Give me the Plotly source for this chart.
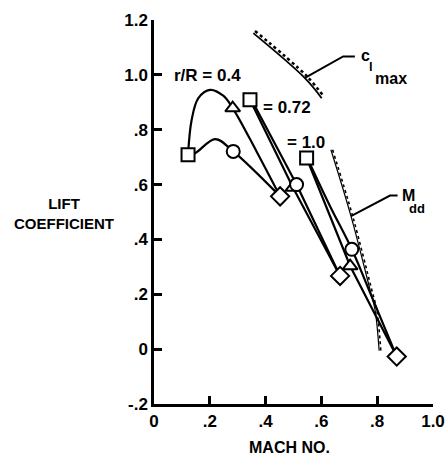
import plotly.graph_objects as go

# ---- data ----
# r/R = 0.4 : retreating (square) -> triangle -> advancing (diamond)
r04_upper_M = [0.122, 0.135, 0.159, 0.201, 0.248, 0.282, 0.368, 0.452]
r04_upper_CL = [0.709, 0.836, 0.915, 0.945, 0.924, 0.879, 0.720, 0.557]
r04_lower_M = [0.122, 0.147, 0.219, 0.284, 0.452]
r04_lower_CL = [0.709, 0.714, 0.766, 0.721, 0.557]
# r/R = 0.72
r072_a_M = [0.344, 0.498, 0.667]
r072_a_CL = [0.909, 0.589, 0.267]
r072_b_M = [0.352, 0.511, 0.667]
r072_b_CL = [0.905, 0.600, 0.267]
# r/R = 1.0
r10_a_M = [0.547, 0.703, 0.870]
r10_a_CL = [0.697, 0.303, -0.027]
r10_b_M = [0.550, 0.631, 0.709, 0.785, 0.870]
r10_b_CL = [0.695, 0.521, 0.364, 0.180, -0.027]

# symbols
sq_M = [0.122, 0.344, 0.547]
sq_CL = [0.709, 0.909, 0.697]
tri_M = [0.282, 0.498, 0.703]
tri_CL = [0.879, 0.589, 0.303]
cir_M = [0.284, 0.511, 0.709]
cir_CL = [0.721, 0.600, 0.364]
dia_M = [0.452, 0.667, 0.870]
dia_CL = [0.557, 0.267, -0.027]

# boundaries
clmax_M = [0.356, 0.541, 0.601]
clmax_CL = [1.152, 0.988, 0.915]
mdd_M = [0.634, 0.706, 0.774, 0.792, 0.807]
mdd_CL = [0.727, 0.485, 0.218, 0.145, -0.006]
# leaders
clmax_lead_M = [0.541, 0.678, 0.720]
clmax_lead_CL = [0.989, 1.067, 1.067]
mdd_lead_M = [0.706, 0.846, 0.873]
mdd_lead_CL = [0.485, 0.560, 0.560]

x_ticks = [0, 0.2, 0.4, 0.6, 0.8, 1.0]
x_ticktext = ["0", ".2", ".4", ".6", ".8", "1.0"]
y_ticks = [-0.2, 0, 0.2, 0.4, 0.6, 0.8, 1.0, 1.2]
y_ticktext = ["-.2", "0", ".2", ".4", ".6", ".8", "1.0", "1.2"]

FONT = "Liberation Sans, Arial, sans-serif"
LW = 2.2

fig = go.Figure()


def line(x, y, shape="linear", width=LW, dash="solid"):
    fig.add_trace(go.Scatter(x=x, y=y, mode="lines",
                             line=dict(color="black", width=width, shape=shape, dash=dash),
                             hoverinfo="skip", showlegend=False))


line(r04_upper_M, r04_upper_CL, "spline")
line(r04_lower_M, r04_lower_CL, "spline")
line(r072_a_M, r072_a_CL)
line(r072_b_M, r072_b_CL)
line(r10_a_M, r10_a_CL)
line(r10_b_M, r10_b_CL, "spline")
# c_l max boundary with hatching on the upper side
line(clmax_M, clmax_CL, "spline", width=1.8)
line([m + 0.006 for m in clmax_M], [c + 0.008 for c in clmax_CL], "spline", width=2.5, dash="dot")
# M_dd boundary with hatching on the right side
line(mdd_M, mdd_CL, "spline", width=1.2)
line([m + 0.006 for m in mdd_M], mdd_CL, "spline", width=1.6, dash="dot")
line(clmax_lead_M, clmax_lead_CL, width=2)
line(mdd_lead_M, mdd_lead_CL, width=2)


def marks(x, y, sym, size):
    fig.add_trace(go.Scatter(x=x, y=y, mode="markers",
                             marker=dict(symbol=sym, size=size, color="white",
                                         line=dict(color="black", width=2)),
                             hoverinfo="skip", showlegend=False))


marks(sq_M, sq_CL, "square", 13)
marks(tri_M, tri_CL, "triangle-up", 13)
marks(cir_M, cir_CL, "circle", 13)
marks(dia_M, dia_CL, "diamond", 14)

bold = dict(family=FONT, size=17, color="black", weight="bold")


def text(x, y, t, xanchor="left", size=17, xref="x", yref="y"):
    fig.add_annotation(x=x, y=y, text=t, showarrow=False, xanchor=xanchor,
                       yanchor="middle", xref=xref, yref=yref,
                       font=dict(family=FONT, size=size, color="black", weight="bold"))


text(0.064, 0.996, "r/R = 0.4")
text(0.385, 0.880, "= 0.72")
text(0.468, 0.752, "= 1.0")
text(0.735, 1.072, "c", size=16)
text(0.762, 1.030, "l", size=13)
text(0.785, 0.985, "max", size=16)
text(0.880, 0.560, "M", size=16)
text(0.905, 0.512, "dd", size=13)
fig.add_annotation(text="LIFT<br>COEFFICIENT", x=-0.323, y=0.495, xref="paper", yref="paper",
                   showarrow=False, xanchor="center", yanchor="middle",
                   font=dict(family=FONT, size=15, color="black", weight="bold"))
fig.add_annotation(text="MACH NO.", x=0.487, y=-0.112, xref="paper", yref="paper",
                   showarrow=False, xanchor="center", yanchor="middle",
                   font=dict(family=FONT, size=16, color="black", weight="bold"))

axis_common = dict(showgrid=False, zeroline=False, showline=True, linecolor="black",
                   linewidth=2.5, ticks="inside", ticklen=8, tickwidth=2.5,
                   tickcolor="black", tickfont=bold, automargin=False)
fig.update_xaxes(range=[0, 1.0], tickvals=x_ticks, ticktext=x_ticktext, **axis_common)
fig.update_yaxes(range=[-0.2, 1.2], tickvals=y_ticks, ticktext=y_ticktext, **axis_common)

fig.update_layout(width=446, height=457, margin=dict(l=154, r=13, t=20, b=53, autoexpand=False),
                  plot_bgcolor="white", paper_bgcolor="white", showlegend=False)

fig.write_html("out.html")
